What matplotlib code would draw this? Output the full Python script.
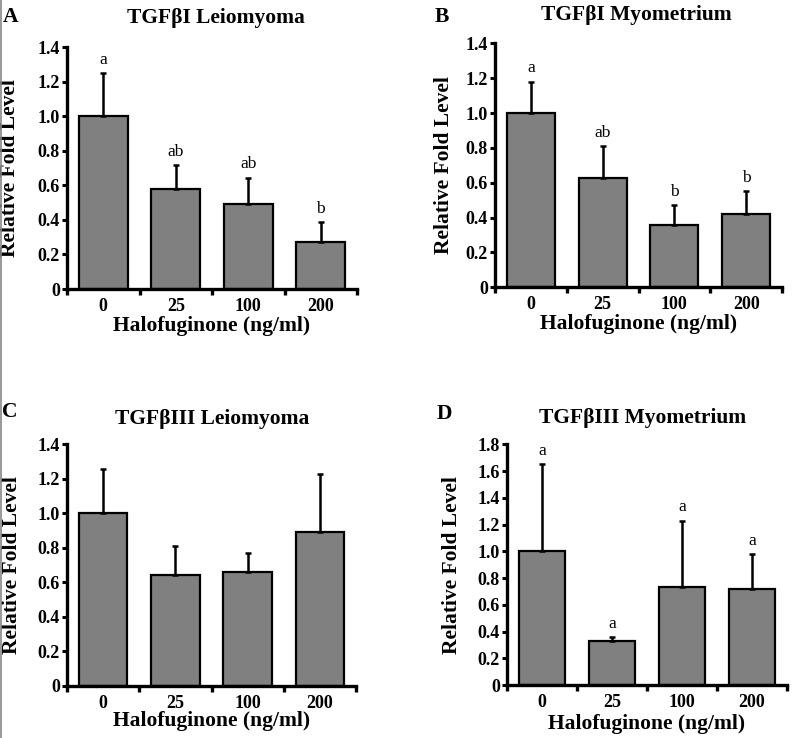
import matplotlib
matplotlib.use("Agg")
import matplotlib.pyplot as plt
from matplotlib.lines import Line2D
from matplotlib.ticker import FuncFormatter, MultipleLocator

plt.rcParams['font.family'] = ['Liberation Serif', 'DejaVu Serif']

categories = ["0", "25", "100", "200"]

a_means = [1.0, 0.58, 0.49, 0.27]
a_err = [0.25, 0.135, 0.155, 0.115]
a_letters = ["a", "ab", "ab", "b"]

b_means = [1.0, 0.63, 0.36, 0.42]
b_err = [0.18, 0.18, 0.11, 0.13]
b_letters = ["a", "ab", "b", "b"]

c_means = [1.0, 0.64, 0.66, 0.89]
c_err = [0.255, 0.17, 0.11, 0.34]
c_letters = ["", "", "", ""]

d_means = [1.0, 0.33, 0.73, 0.715]
d_err = [0.65, 0.027, 0.5, 0.265]
d_letters = ["a", "a", "a", "a"]

titles = ["TGFβI Leiomyoma", "TGFβI Myometrium", "TGFβIII Leiomyoma", "TGFβIII Myometrium"]
panel_letters = ["A", "B", "C", "D"]
ymaxes = [1.4, 1.4, 1.4, 1.8]

W, H = 800, 738
fig = plt.figure(figsize=(W / 100, H / 100), dpi=100)

# axes boxes in pixels: left, right, top, bottom
boxes = [(67, 357, 47, 289), (495, 782, 43.3, 287.3), (67, 356, 444.3, 685.7), (507, 787, 444.3, 685)]
ylabel_px = [10, 444, 12, 452]
xlabel_px = [326, 324, 721, 724]
title_pos = [(216, 18), (636, 15), (212, 419), (643, 418)]
letter_pos = [(3, 17.5), (435, 16.5), (2, 412), (437, 414)]
letter_gap = 0.03

data = [(a_means, a_err, a_letters), (b_means, b_err, b_letters),
        (c_means, c_err, c_letters), (d_means, d_err, d_letters)]

fmt = FuncFormatter(lambda v, p: "0" if abs(v) < 1e-9 else f"{v:.1f}")

for i, ((means, errs, lets), box) in enumerate(zip(data, boxes)):
    l, r, t, b = box
    ax = fig.add_axes([l / W, 1 - b / H, (r - l) / W, (b - t) / H])
    x = list(range(len(categories)))
    ax.bar(x, means, width=0.67, color="#808080", edgecolor="black", linewidth=1.6, zorder=2)
    ax.errorbar(x, means, yerr=[[0] * len(means), errs], fmt="none", ecolor="black",
                elinewidth=1.8, capsize=2.5, capthick=1.8, zorder=3)
    for xi, m, e, s in zip(x, means, errs, lets):
        if s:
            ax.text(xi, m + e + letter_gap * ymaxes[i] / 1.4, s, ha="center", va="bottom",
                    fontsize=12.5, fontweight="normal")
    ax.set_xlim(-0.5, 3.5)
    ax.set_ylim(0, ymaxes[i])
    ax.yaxis.set_major_locator(MultipleLocator(0.2))
    ax.yaxis.set_major_formatter(fmt)
    ax.set_xticks(x)
    ax.set_xticklabels(categories)
    ax.set_xticks([-0.5, 0.5, 1.5, 2.5, 3.5], minor=True)
    for sp in ["top", "right"]:
        ax.spines[sp].set_visible(False)
    for sp in ["left", "bottom"]:
        ax.spines[sp].set_linewidth(2.4)
    ax.tick_params(axis="x", which="major", length=0, pad=6.5, labelsize=13)
    ax.tick_params(axis="x", which="minor", length=4, width=2.4, direction="out")
    ax.tick_params(axis="y", which="major", length=3.5, width=2.2, direction="out", pad=1.5, labelsize=13)
    for lab in ax.get_xticklabels() + ax.get_yticklabels():
        lab.set_fontweight("bold")
    ax.set_xlabel("Halofuginone (ng/ml)", fontsize=15.5, fontweight="bold")
    ax.xaxis.set_label_coords(0.5, (b - xlabel_px[i]) / (b - t))
    ax.xaxis.label.set_va("center")
    ax.set_ylabel("Relative Fold Level", fontsize=15.5, fontweight="bold")
    ax.yaxis.set_label_coords((ylabel_px[i] - l) / (r - l), 0.5)
    ax.yaxis.label.set_va("center")

    tx, ty = title_pos[i]
    fig.text(tx / W, 1 - ty / H, titles[i], ha="center", va="center", fontsize=15.5, fontweight="bold")
    lx, ly = letter_pos[i]
    fig.text(lx / W, 1 - ly / H, panel_letters[i], ha="left", va="center", fontsize=15.5, fontweight="bold")

fig.add_artist(Line2D([0.0015, 0.0015], [0, 1], transform=fig.transFigure, color="#888888", linewidth=1.2))

fig.savefig("out.png", dpi=100)
